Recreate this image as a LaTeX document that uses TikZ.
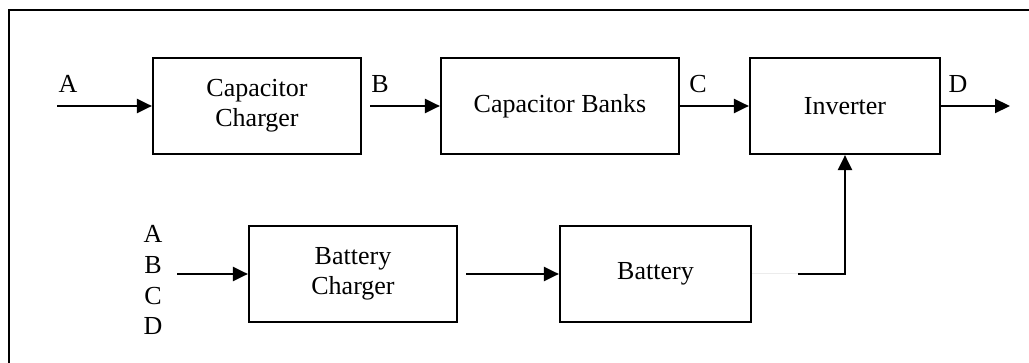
\documentclass[tikz,border=0pt]{standalone}
\usepackage{fontspec}
\setmainfont{Liberation Serif}
\usetikzlibrary{arrows.meta}
\begin{document}
\begin{tikzpicture}[x=1pt,y=-1pt,
  blk/.style={draw, line width=2.2pt, inner sep=0pt, align=center, minimum height=96pt, font=\fontsize{26}{30}\selectfont},
  lbl/.style={inner sep=0pt, anchor=base, font=\fontsize{26}{30}\selectfont},
  conn/.style={line width=2.2pt, -{Triangle[length=15pt,width=14pt]}},
  frame/.style={line width=2.2pt}]
\useasboundingbox (0,0) rectangle (1029,363);
\draw[frame] (9,363) -- (9,10) -- (1029,10);

\node[blk, minimum width=208pt] (cc)  at (257,106) {Capacitor\\Charger};
\node[blk, minimum width=238pt] (cb)  at (560,106) {Capacitor Banks};
\node[blk, minimum width=190pt] (inv) at (845,106) {Inverter};
\node[blk, minimum width=208pt] (bc)  at (353,274) {Battery\\Charger};
\node[blk, minimum width=191pt] (bat) at (655.5,274) {Battery};

\coordinate (ain) at (57,106);
\coordinate (dout) at (1010,106);
\coordinate (bin) at (177,274);
\coordinate (k) at (798,274);

\draw[conn] (ain) -- (cc.west);
\draw[conn, shorten <=8pt] (cc.east) -- (cb.west);
\draw[conn] (cb.east) -- (inv.west);
\draw[conn] (inv.east) -- (dout);
\draw[conn] (bin) -- (bc.west);
\draw[conn, shorten <=8pt] (bc.east) -- (bat.west);
\draw[line width=1pt, gray!15] (bat.east) -- (k);
\draw[conn] (k) -| (inv.south);

\node[lbl] (la) at (68,93) {A};
\node[lbl] (lb) at (380,93) {B};
\node[lbl] (lc) at (698,93) {C};
\node[lbl] (ld) at (958,93) {D};
\node[lbl] (la2) at (153,243) {A};
\node[lbl] (lb2) at (153,274) {B};
\node[lbl] (lc2) at (153,305) {C};
\node[lbl] (ld2) at (153,335) {D};
\end{tikzpicture}
\end{document}
